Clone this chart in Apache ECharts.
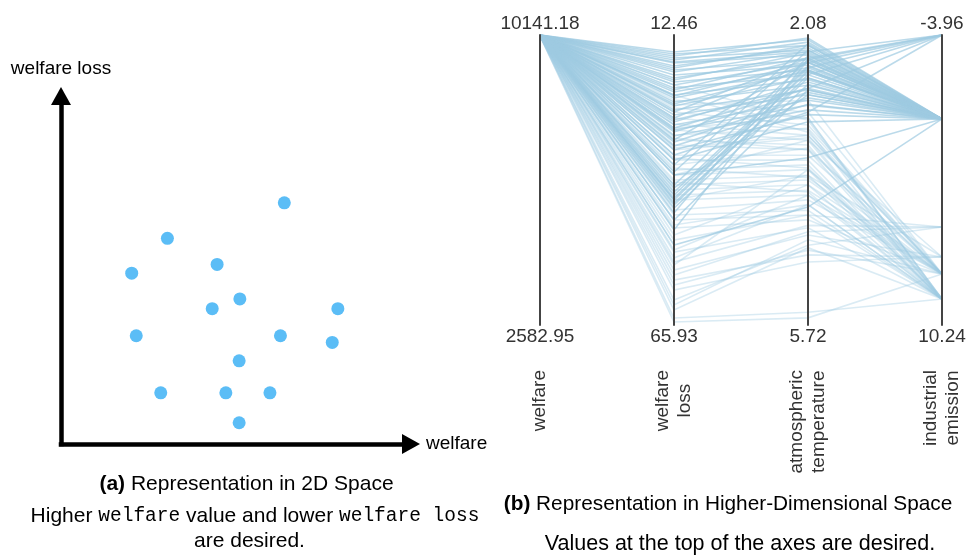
<!DOCTYPE html>
<html><head><meta charset="utf-8">
<script src="https://cdn.jsdelivr.net/npm/echarts@6/dist/echarts.min.js"></script>
<style>html,body{margin:0;padding:0;background:#fff}#c{width:966px;height:558px}</style>
</head><body><div id="c"></div><script>
// ---- (a) 2D scatter (arbitrary units 0..100) ----
var scatterX = [63.8, 30.4, 20.2, 44.6, 51.1, 43.2, 79.1, 21.5, 62.7, 77.5, 50.9, 28.5, 47.1, 59.7, 50.9];
var scatterY = [69.3, 59.1, 49.1, 51.6, 41.7, 38.9, 38.9, 31.1, 31.1, 29.2, 23.9, 14.7, 14.7, 14.7, 6.1];

// ---- (b) parallel coordinates ----
var axisNames = ['welfare', 'welfare\nloss', 'atmospheric\ntemperature', 'industrial\nemission'];
var axisMin = [2582.95, 12.46, 2.08, -3.96];
var axisMax = [10141.18, 65.93, 5.72, 10.24];
var axisInverse = [false, true, true, true];

var welfareVals = [
 10141.18, 10139.87, 10136.52, 10140.31, 10134.96, 10138.44, 10131.07, 10137.69, 10135.23, 10140.75,
 10129.58, 10136.91, 10133.42, 10139.06, 10127.85, 10134.12, 10138.97, 10130.66, 10141.02, 10126.39,
 10137.15, 10132.78, 10135.84, 10128.93, 10140.12, 10133.57, 10125.48, 10139.41, 10136.03, 10131.92,
 10138.26, 10127.14, 10134.69, 10140.58, 10129.81, 10137.33, 10124.77, 10135.61, 10132.05, 10139.73,
 10136.88, 10130.29, 10138.61, 10133.96, 10127.52, 10140.89, 10131.44, 10135.17, 10122.63, 10128.36,
 10134.81, 10137.95, 10125.92, 10139.24, 10130.83, 10133.08, 10126.71, 10136.37, 10123.55, 10138.09,
 10129.14, 10135.48, 10121.86, 10132.61, 10137.52, 10124.19, 10130.02, 10134.35, 10119.97, 10127.68,
 10133.73, 10120.84, 10128.47, 10136.14, 10118.62, 10131.29, 10125.03, 10139.58, 10122.17, 10129.96,
 10117.43, 10126.25, 10134.02, 10121.39, 10116.85, 10130.57, 10123.81, 10115.26, 10119.14, 10124.48,
 10120.33, 10138.72, 10132.44, 10136.29, 10129.07, 10140.46, 10127.33, 10134.58, 10130.91, 10137.84,
 10125.66, 10133.19, 10121.47, 10128.82, 10135.93, 10119.58, 10126.94, 10131.76, 10118.27, 10123.09,
 10116.34];
var welfareLossVals = [
 15.59, 15.96, 16.33, 16.70, 17.07, 17.62, 18.18, 18.91, 19.28, 19.84,
 20.39, 21.13, 21.68, 22.23, 22.97, 23.52, 24.08, 24.81, 25.55, 26.29,
 27.21, 28.13, 29.05, 29.98, 31.08, 32.19, 33.66, 40.12, 41.41, 42.51,
 43.44, 44.36, 45.28, 46.57, 35.51, 38.27, 51.18, 36.43, 37.72, 31.82,
 17.44, 22.60, 27.76, 41.96, 43.80, 29.61, 34.59, 48.41, 24.44, 25.92,
 26.66, 27.76, 28.87, 29.98, 30.90, 31.82, 32.74, 33.66, 34.59, 35.51,
 36.43, 37.35, 38.27, 39.20, 40.12, 41.04, 41.96, 42.88, 44.73, 45.65,
 47.49, 49.34, 50.26, 52.10, 53.58, 54.87, 21.68, 23.52, 55.79, 57.63,
 38.27, 42.88, 59.48, 54.31, 56.71, 46.57, 61.32, 64.64, 65.38, 63.16,
 62.24, 18.54, 20.76, 23.71, 25.18, 26.66, 28.50, 30.34, 32.93, 40.67,
 42.88, 25.37, 29.61, 31.45, 33.29, 35.14, 36.98, 39.56, 48.05, 52.47,
 58.56];
var temperatureVals = [
 2.14, 2.21, 2.12, 2.27, 2.17, 2.33, 2.24, 2.39, 2.29, 2.46,
 2.37, 2.52, 2.42, 2.58, 2.49, 2.64, 2.54, 2.71, 2.62, 2.77,
 2.83, 2.75, 2.90, 2.96, 3.02, 2.87, 3.08, 2.39, 2.47, 2.54,
 2.62, 2.70, 2.34, 2.77, 3.17, 3.62, 4.24, 2.19, 2.27, 2.42,
 2.29, 2.37, 2.43, 2.49, 2.58, 2.75, 3.05, 2.39, 3.05, 3.12,
 3.21, 3.27, 3.34, 3.40, 3.25, 3.46, 3.52, 3.37, 3.59, 3.65,
 3.50, 3.71, 3.77, 3.84, 3.90, 3.96, 4.03, 4.09, 4.15, 4.28,
 4.21, 3.96, 4.34, 4.09, 4.21, 3.77, 3.15, 3.30, 4.59, 4.84,
 3.40, 3.84, 4.93, 4.47, 4.55, 4.34, 4.72, 5.56, 5.63, 4.75,
 4.65, 2.21, 2.31, 2.43, 2.52, 2.37, 2.67, 2.80, 2.95, 2.83,
 2.52, 2.90, 3.12, 3.52, 3.34, 3.75, 3.87, 4.05, 4.40, 4.50,
 4.78];
var emissionVals = [
 0.15, 0.15, 0.15, 0.15, 0.15, 0.15, 0.15, 0.15, 0.15, 0.15,
 0.15, 0.15, 0.15, 0.15, 0.15, 0.15, 0.15, 0.15, 0.15, 0.15,
 0.15, 0.15, 0.15, 0.15, 0.15, 0.15, 0.15, 0.15, 0.15, 0.15,
 0.15, 0.15, 0.15, 0.15, 0.15, 0.15, 0.15, 0.15, 0.15, 0.15,
 -3.96, -3.96, -3.96, -3.96, -3.96, -3.96, -3.96, -3.96, 7.74, 8.97,
 7.74, 8.97, 7.74, 8.97, 7.74, 8.97, 7.74, 8.97, 7.74, 8.97,
 7.74, 8.97, 7.74, 8.97, 7.74, 8.97, 7.74, 8.97, 7.74, 8.97,
 8.97, 7.74, 8.97, 7.74, 8.97, 8.97, 8.97, 7.74, 6.91, 6.91,
 6.91, 6.91, 6.91, 5.44, 5.44, 5.44, 5.44, 8.97, 7.74, 8.97,
 7.74, 0.15, 0.15, 0.15, 0.15, 0.15, 0.15, 0.15, 0.15, 0.15,
 0.15, 7.74, 8.97, 8.97, 7.74, 8.97, 7.74, 8.97, 7.74, 8.97,
 7.74];

var SANS = "'Liberation Sans', Arial, Helvetica, sans-serif";
var MONO = "'Liberation Mono', 'Courier New', monospace";

var scatterData = scatterX.map(function (x, i) { return [x, scatterY[i]]; });
var strongLines = [], faintLines = [];
welfareVals.forEach(function (w, i) {
  var row = [w, welfareLossVals[i], temperatureVals[i], emissionVals[i]];
  if (emissionVals[i] <= 0.15) strongLines.push(row); else faintLines.push(row);
});

function topValue(i) { return axisInverse[i] ? axisMin[i] : axisMax[i]; }

var parallelAxes = axisNames.map(function (name, i) {
  var parts = name.split('\n');
  return {
    dim: i,
    name: parts.map(function (p) { return '{c|' + p + '}'; }).join('\n'),
    min: axisMin[i],
    max: axisMax[i],
    interval: Math.round((axisMax[i] - axisMin[i]) * 100) / 100,
    inverse: axisInverse[i],
    nameLocation: axisInverse[i] ? 'end' : 'start',
    axisLabel: {
      formatter: function (v) {
        var s = v.toFixed(2);
        return Math.abs(v - topValue(i)) < 1e-6 ? '{t|' + s + '}' : '{b|' + s + '}';
      }
    }
  };
});

var chart = echarts.init(document.getElementById('c'), null, { renderer: 'canvas' });
chart.setOption({
  animation: false,
  backgroundColor: '#fff',
  grid: { left: 61, top: 96, width: 350, height: 348, containLabel: false },
  xAxis: {
    type: 'value', min: 0, max: 100,
    axisLine: { show: true, lineStyle: { color: '#000', width: 4.5, cap: 'square' },
      symbol: ['none', 'triangle'], symbolSize: [20, 18] },
    axisTick: { show: false }, axisLabel: { show: false }, splitLine: { show: false },
    name: 'welfare', nameLocation: 'end', nameGap: 15,
    nameTextStyle: { fontFamily: SANS, fontSize: 19, color: '#000' }
  },
  yAxis: {
    type: 'value', min: 0, max: 100,
    axisLine: { show: true, lineStyle: { color: '#000', width: 4.5, cap: 'square' },
      symbol: ['none', 'triangle'], symbolSize: [20, 18] },
    axisTick: { show: false }, axisLabel: { show: false }, splitLine: { show: false },
    name: 'welfare loss', nameLocation: 'end', nameGap: 18,
    nameTextStyle: { fontFamily: SANS, fontSize: 19, color: '#000' }
  },
  parallel: {
    left: 540, right: 24, top: 35, bottom: 233, layout: 'horizontal',
    parallelAxisDefault: {
      type: 'value',
      axisLine: { lineStyle: { color: '#444', width: 2 } },
      axisTick: { show: false },
      splitLine: { show: false },
      axisLabel: {
        margin: 0, align: 'center', verticalAlign: 'middle',
        color: '#333', fontSize: 19, fontFamily: SANS,
        rich: {
          t: { color: '#333', fontSize: 19, fontFamily: SANS, padding: [0, 0, 23, 0] },
          b: { color: '#333', fontSize: 19, fontFamily: SANS, padding: [23, 0, 0, 0] }
        }
      },
      nameRotate: 90,
      nameGap: 45,
      nameTextStyle: {
        color: '#333', fontSize: 19, fontFamily: SANS, lineHeight: 22,
        rich: { c: { align: 'center', color: '#333', fontSize: 19, fontFamily: SANS, lineHeight: 22 } }
      }
    }
  },
  parallelAxis: parallelAxes,
  series: [
    {
      type: 'scatter', xAxisIndex: 0, yAxisIndex: 0, data: scatterData,
      symbolSize: 13, itemStyle: { color: '#5bbdf6', opacity: 1 }, silent: true
    },
    {
      type: 'parallel', parallelIndex: 0, data: faintLines, silent: true,
      lineStyle: { color: '#9ecae1', width: 1.6, opacity: 0.38 }
    },
    {
      type: 'parallel', parallelIndex: 0, data: strongLines, silent: true,
      lineStyle: { color: '#9ecae1', width: 1.6, opacity: 0.7 }
    }
  ],
  graphic: [
    { type: 'text', x: 246.5, y: 484, silent: true,
      style: { text: '{bb|(a)} Representation in 2D Space', fontFamily: SANS, fontSize: 21, fill: '#000',
        align: 'center', verticalAlign: 'middle',
        rich: { bb: { fontWeight: 'bold', fontFamily: SANS, fontSize: 21, fill: '#000' } } } },
    { type: 'text', x: 255, y: 516, silent: true,
      style: { text: 'Higher {m|welfare} value and lower {m|welfare loss}', fontFamily: SANS, fontSize: 21, fill: '#000',
        align: 'center', verticalAlign: 'middle',
        rich: { m: { fontFamily: MONO, fontSize: 19.5, fill: '#000' } } } },
    { type: 'text', x: 249.5, y: 541, silent: true,
      style: { text: 'are desired.', fontFamily: SANS, fontSize: 21, fill: '#000', align: 'center', verticalAlign: 'middle' } },
    { type: 'text', x: 728, y: 504.5, silent: true,
      style: { text: '{bb|(b)} Representation in Higher-Dimensional Space', fontFamily: SANS, fontSize: 20.8, fill: '#000',
        align: 'center', verticalAlign: 'middle',
        rich: { bb: { fontWeight: 'bold', fontFamily: SANS, fontSize: 20.8, fill: '#000' } } } },
    { type: 'text', x: 740, y: 544.5, silent: true,
      style: { text: 'Values at the top of the axes are desired.', fontFamily: SANS, fontSize: 21.5, fill: '#000',
        align: 'center', verticalAlign: 'middle' } }
  ]
});
</script></body></html>
